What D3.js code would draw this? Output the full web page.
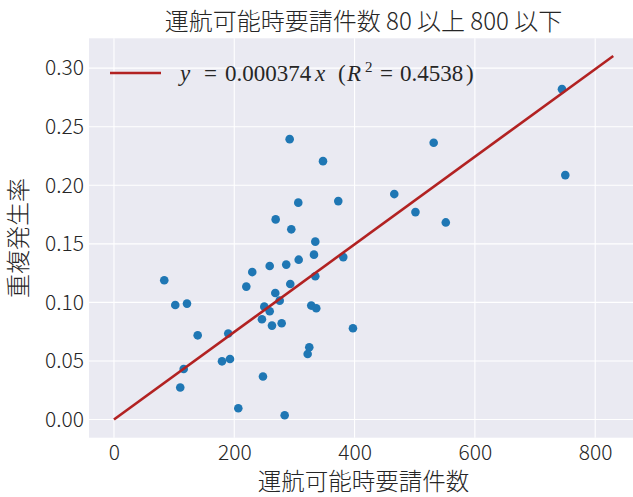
<!DOCTYPE html>
<html><head><meta charset="utf-8">
<script src="https://cdn.jsdelivr.net/npm/d3@7"></script>
<style>
html,body{margin:0;padding:0;background:#fff;}
svg{display:block;}
.cjk{font-family:"Noto Sans CJK JP","Noto Sans CJK SC",sans-serif;font-weight:300;}
.tick text{font-family:"Noto Sans CJK JP","Noto Sans",sans-serif;font-weight:300;}
</style></head>
<body>
<script>
const titleText = "運航可能時要請件数 80 以上 800 以下";
const xLabel = "運航可能時要請件数";
const yLabel = "重複発生率";
const xTicks = [0, 200, 400, 600, 800];
const yTicks = [0.00, 0.05, 0.10, 0.15, 0.20, 0.25, 0.30];
const requests = [306.4,372.9,268.8,294.8,334.7,332.5,381.2,307.1,286.4,258.9,229.9,83.6,334.7,293.1,220.0,268.2,275.5,101.9,121.4,249.9,258.9,328.0,336.3,246.0,262.7,278.8,139.2,190.0,397.3,324.7,322.0,179.6,192.9,115.9,110.2,247.7,206.7,283.8,292.1,347.5,531.5,466.0,501.2,551.6,744.8,750.3];
const dupRates = [0.1852,0.1865,0.1709,0.1624,0.1519,0.1408,0.1387,0.1365,0.1323,0.1311,0.1259,0.1189,0.1223,0.1157,0.1135,0.1080,0.1015,0.0978,0.0990,0.0964,0.0924,0.0973,0.0950,0.0856,0.0802,0.0822,0.0719,0.0734,0.0779,0.0617,0.0560,0.0497,0.0517,0.0432,0.0273,0.0367,0.0096,0.0037,0.2394,0.2206,0.2363,0.1925,0.1771,0.1683,0.2821,0.2087];
const slope = 0.000374;
const r2 = 0.4538;
const lineX = [0, 830];

const W = 633, H = 497;
const m = {left: 89, top: 38.3, right: 638.2, bottom: 437.7};
const svg = d3.select("body").append("svg").attr("width", W).attr("height", H);
const x = d3.scaleLinear().domain([-41.5, 871.5]).range([m.left, m.right]);
const y = d3.scaleLinear().domain([-0.0155, 0.3255]).range([m.bottom, m.top]);

svg.append("rect").attr("x", m.left).attr("y", m.top)
  .attr("width", m.right - m.left).attr("height", m.bottom - m.top).attr("fill", "#EAEAF2");

// grid
svg.append("g").selectAll("line").data(xTicks).join("line")
  .attr("x1", d => x(d)).attr("x2", d => x(d)).attr("y1", m.top).attr("y2", m.bottom)
  .attr("stroke", "#fff").attr("stroke-width", 1.1);
svg.append("g").selectAll("line").data(yTicks).join("line")
  .attr("y1", d => y(d)).attr("y2", d => y(d)).attr("x1", m.left).attr("x2", m.right)
  .attr("stroke", "#fff").attr("stroke-width", 1.1);

// axes
const xa = svg.append("g").attr("transform", `translate(0,${m.bottom})`)
  .call(d3.axisBottom(x).tickValues(xTicks).tickSize(0).tickPadding(5).tickFormat(d3.format("d")));
const ya = svg.append("g").attr("transform", `translate(${m.left},0)`)
  .call(d3.axisLeft(y).tickValues(yTicks).tickSize(0).tickPadding(5).tickFormat(d3.format(".2f")));
[xa, ya].forEach(a => {
  a.select(".domain").remove();
  a.selectAll("text").attr("font-size", 21).attr("fill", "#262626");
});
xa.selectAll("text").attr("dy", "0.8em");

// points
svg.append("g").selectAll("circle").data(requests).join("circle")
  .attr("cx", d => x(d)).attr("cy", (d, i) => y(dupRates[i])).attr("r", 4.3)
  .attr("fill", "#1f77b4");

// fit line
svg.append("line")
  .attr("x1", x(lineX[0])).attr("y1", y(slope * lineX[0]))
  .attr("x2", x(lineX[1])).attr("y2", y(slope * lineX[1]))
  .attr("stroke", "#b22222").attr("stroke-width", 2.6);

// legend
svg.append("line").attr("x1", 110).attr("x2", 161).attr("y1", 73).attr("y2", 73)
  .attr("stroke", "#b22222").attr("stroke-width", 2.6);
const lt = svg.append("text").attr("y", 81)
  .attr("font-family", "'Liberation Serif','DejaVu Serif',serif").attr("font-size", 23).attr("fill", "#262626");
lt.append("tspan").attr("x", 180).attr("font-style", "italic").text("y");
lt.append("tspan").attr("x", 204).text("=");
lt.append("tspan").attr("x", 225).text(slope.toFixed(6));
lt.append("tspan").attr("x", 315).attr("font-style", "italic").text("x");
lt.append("tspan").attr("x", 338).text("(");
lt.append("tspan").attr("x", 347).attr("font-style", "italic").text("R");
lt.append("tspan").attr("x", 365).attr("font-size", 15).attr("dy", -9).text("2");
lt.append("tspan").attr("x", 380).attr("dy", 9).text("=");
lt.append("tspan").attr("x", 400).text(r2.toFixed(4));
lt.append("tspan").attr("x", 466).text(")");

// titles
svg.append("text").attr("class", "cjk").attr("x", 363.5).attr("y", 30)
  .attr("text-anchor", "middle").attr("font-size", 24).attr("fill", "#262626").text(titleText);
svg.append("text").attr("class", "cjk").attr("x", 363.5).attr("y", 490)
  .attr("text-anchor", "middle").attr("font-size", 23.5).attr("fill", "#262626").text(xLabel);
svg.append("text").attr("class", "cjk")
  .attr("transform", `translate(27,${(m.top + m.bottom) / 2}) rotate(-90)`)
  .attr("text-anchor", "middle").attr("font-size", 24).attr("fill", "#262626").text(yLabel);
</script>
</body></html>
